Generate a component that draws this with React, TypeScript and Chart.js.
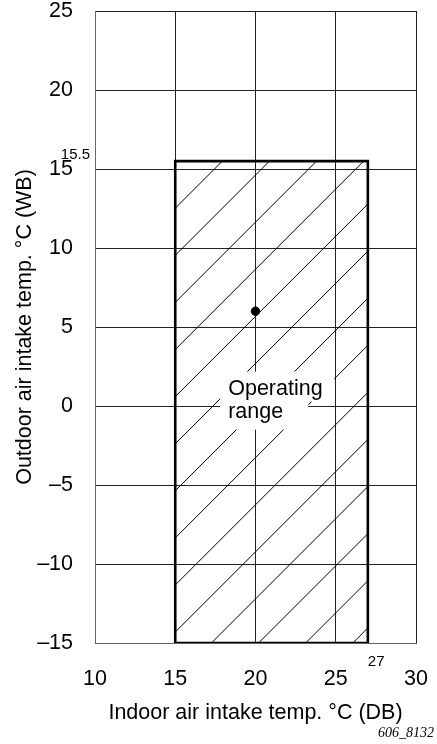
import React, { useEffect, useRef } from "react";
import { Chart, registerables } from "chart.js";

Chart.register(...registerables);

// ---- data ----
const xTickValues = [10, 15, 20, 25, 30];
const yTickValues = [-15, -10, -5, 0, 5, 10, 15, 20, 25];
const rangeX = [15, 27]; // indoor DB limits
const rangeY = [-15, 15.5]; // outdoor WB limits
const pointX = [20];
const pointY = [6];
const rangeLabelLines = ["Operating", "range"];
const xTitle = "Indoor air intake temp. °C (DB)";
const yTitle = "Outdoor air intake temp. °C (WB)";
const figureId = "606_8132";

const FONT = "'Liberation Sans', Arial, Helvetica, sans-serif";
const HATCH = 47.1;

const fmt = (v: number) => (v < 0 ? "\u2013" + Math.abs(v) : String(v));

const decorPlugin = {
  id: "decor",
  beforeDatasetsDraw(chart: any) {
    const { ctx, scales } = chart;
    const x = scales.x;
    const y = scales.y;
    const L = x.getPixelForValue(rangeX[0]);
    const R = x.getPixelForValue(rangeX[1]);
    const T = y.getPixelForValue(rangeY[1]);
    const B = y.getPixelForValue(rangeY[0]);
    // hatching
    ctx.save();
    ctx.beginPath();
    ctx.rect(L, T, R - L, B - T);
    ctx.clip();
    ctx.strokeStyle = "#000";
    ctx.lineWidth = 1;
    for (let s = L + T; s <= R + B + 1; s += HATCH) {
      ctx.beginPath();
      ctx.moveTo(s - T + 5, T - 5);
      ctx.lineTo(s - B - 5, B + 5);
      ctx.stroke();
    }
    ctx.restore();

    // label with white background
    const lx = x.getPixelForValue(18.3);
    const ly = y.getPixelForValue(1.1);
    ctx.save();
    ctx.fillStyle = "#fff";
    ctx.fillRect(lx - 8, ly - 17, 114, 30);
    ctx.fillRect(lx - 8, ly + 12, 88, 29);
    ctx.fillStyle = "#000";
    ctx.font = `21.5px ${FONT}`;
    ctx.textAlign = "left";
    ctx.textBaseline = "middle";
    rangeLabelLines.forEach((t, i) => ctx.fillText(t, lx, ly + i * 23.5));
    ctx.restore();
  },
  afterDraw(chart: any) {
    const { ctx, scales, chartArea } = chart;
    const x = scales.x;
    const y = scales.y;
    ctx.save();
    ctx.fillStyle = "#000";
    ctx.font = `15px ${FONT}`;
    ctx.textBaseline = "alphabetic";
    ctx.textAlign = "right";
    ctx.fillText(String(rangeY[1]), chartArea.left - 5, y.getPixelForValue(rangeY[1]) - 2);
    ctx.textAlign = "left";
    ctx.fillText(String(rangeX[1]), x.getPixelForValue(rangeX[1]), chartArea.bottom + 23);
    ctx.font = `italic 14px 'Liberation Serif', 'Times New Roman', serif`;
    ctx.textAlign = "right";
    ctx.fillText(figureId, 434, 737);
    ctx.restore();
  },
};

export default function App() {
  const ref = useRef<HTMLCanvasElement | null>(null);
  useEffect(() => {
    if (!ref.current) return;
    const rectData = [
      { x: rangeX[0], y: rangeY[0] },
      { x: rangeX[0], y: rangeY[1] },
      { x: rangeX[1], y: rangeY[1] },
      { x: rangeX[1], y: rangeY[0] },
      { x: rangeX[0], y: rangeY[0] },
    ];
    const chart = new Chart(ref.current, {
      type: "scatter",
      data: {
        datasets: [
          {
            type: "line",
            data: rectData,
            borderColor: "#000",
            borderWidth: 2.6,
            pointRadius: 0,
            fill: false,
            tension: 0,
            borderJoinStyle: "miter",
          } as any,
          {
            data: pointX.map((v, i) => ({ x: v, y: pointY[i] })),
            backgroundColor: "#000",
            borderColor: "#000",
            pointRadius: 4.2,
          },
        ],
      },
      options: {
        animation: false,
        responsive: true,
        maintainAspectRatio: false,
        layout: { padding: { top: 11, right: 21, left: 0, bottom: 0 } },
        plugins: { legend: { display: false }, tooltip: { enabled: false } },
        scales: {
          x: {
            type: "linear",
            min: 10,
            max: 30,
            afterBuildTicks: (s: any) => {
              s.ticks = xTickValues.map((v) => ({ value: v }));
            },
            afterFit: (s: any) => {
              s.height = 101;
              s.paddingLeft = 0;
              s.paddingRight = 0;
            },
            ticks: {
              color: "#000",
              font: { family: FONT, size: 21.5, lineHeight: 1 },
              padding: 25.5,
              maxRotation: 0,
              callback: (v: any) => fmt(Number(v)),
            },
            grid: { color: "#222", lineWidth: 1, drawTicks: false },
            border: { color: "#666", width: 1 },
            title: {
              display: true,
              text: xTitle,
              color: "#000",
              font: { family: FONT, size: 21.5, lineHeight: 1.2 },
              padding: { top: 0, bottom: 18 },
            },
          },
          y: {
            type: "linear",
            min: -15,
            max: 25,
            afterBuildTicks: (s: any) => {
              s.ticks = yTickValues.map((v) => ({ value: v }));
            },
            afterFit: (s: any) => {
              s.width = 95;
              s.paddingTop = 0;
              s.paddingBottom = 0;
            },
            ticks: {
              color: "#000",
              font: { family: FONT, size: 21.5, lineHeight: 1 },
              padding: 22,
              callback: (v: any) => fmt(Number(v)),
            },
            grid: { color: "#222", lineWidth: 1, drawTicks: false },
            border: { color: "#666", width: 1 },
            title: {
              display: true,
              text: yTitle,
              color: "#000",
              font: { family: FONT, size: 21.5, lineHeight: 1.2 },
              padding: { top: 12, bottom: 0 },
            },
          },
        },
      },
      plugins: [decorPlugin],
    });
    return () => chart.destroy();
  }, []);
  return (
    <div style={{ position: "absolute", left: 0, top: 0, width: 437, height: 744 }}>
      <canvas ref={ref} />
    </div>
  );
}
